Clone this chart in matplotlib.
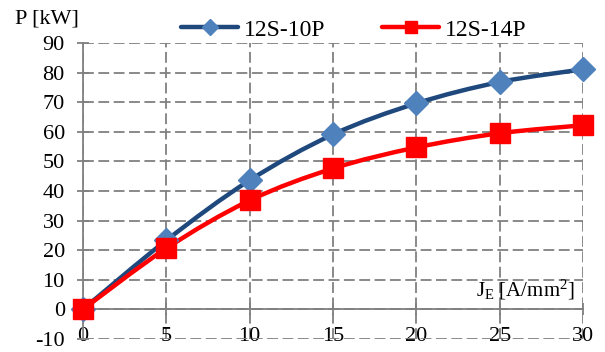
import numpy as np
import matplotlib
matplotlib.use("Agg")
import matplotlib.pyplot as plt
from matplotlib.path import Path
from matplotlib.patches import PathPatch

plt.rcParams['font.family'] = ['Liberation Serif', 'DejaVu Serif']
plt.rcParams['mathtext.fontset'] = 'custom'
plt.rcParams['mathtext.rm'] = 'Liberation Serif'
plt.rcParams['mathtext.it'] = 'Liberation Serif:italic'
plt.rcParams['axes.unicode_minus'] = False

# current density J_E [A/mm2] and output power P [kW]
j_e = [0, 5, 10, 15, 20, 25, 30]
p_10p = [0, 23.3, 43.6, 59.1, 69.6, 76.8, 81.1]
p_14p = [0, 20.6, 36.8, 47.6, 54.7, 59.5, 62.2]

x_ticks = [0, 5, 10, 15, 20, 25, 30]
y_ticks = [-10, 0, 10, 20, 30, 40, 50, 60, 70, 80, 90]


def smooth_path(xs, ys):
    # cardinal spline through the points, as cubic bezier segments
    pts = np.column_stack([xs, ys]).astype(float)
    n = len(pts)
    verts = [pts[0]]
    codes = [Path.MOVETO]
    for i in range(n - 1):
        p0 = pts[i - 1] if i > 0 else pts[i]
        p1 = pts[i]
        p2 = pts[i + 1]
        p3 = pts[i + 2] if i + 2 < n else pts[i + 1]
        c1 = p1 + (p2 - p0) / 6.0
        c2 = p2 - (p3 - p1) / 6.0
        verts += [c1, c2, p2]
        codes += [Path.CURVE4] * 3
    return Path(verts, codes)


fig = plt.figure(figsize=(6.05, 3.52), dpi=100)
ax = fig.add_axes([0.137, 0.037, 0.827, 0.841])

series = [
    (p_10p, '#1F497D', '#4F81BD', 'D', 12, 8, '12S-10P'),
    (p_14p, '#FF0000', '#FF0000', 's', 14, 9, '12S-14P'),
]
handles = []
for ys, lc, mc, mk, ms, ms_leg, name in series:
    ax.add_patch(PathPatch(smooth_path(j_e, ys), fill=False, edgecolor=lc,
                           lw=3.2, capstyle='round', zorder=3))
    ax.plot(j_e, ys, ls='none', marker=mk, ms=ms, color=mc, zorder=4, clip_on=False)
    h, = ax.plot([], [], color=lc, lw=3.2, marker=mk, ms=ms_leg,
                 markerfacecolor=mc, markeredgecolor=mc, solid_capstyle='round')
    h.set_label(name)
    handles.append(h)

ax.set_xlim(0, 30)
ax.set_ylim(-10, 90)
ax.set_xticks(x_ticks)
ax.set_yticks(y_ticks)

ax.grid(True, color='#808080', ls=(0, (6, 2.5)), lw=1.3, zorder=1)
for side in ['top', 'right']:
    ax.spines[side].set_visible(False)
ax.spines['bottom'].set_position(('data', 0))
for side in ['bottom', 'left']:
    ax.spines[side].set_color('#808080')
    ax.spines[side].set_linewidth(1.3)
    ax.spines[side].set_zorder(2)

ax.tick_params(axis='both', direction='inout', length=8, width=1.3,
               color='#808080', labelsize=16)
ax.tick_params(axis='x', pad=9)
ax.tick_params(axis='y', pad=9)

fig.text(0.025, 0.945, 'P [kW]', fontsize=16, ha='left', va='center')
ax.text(26.5, 6.5, r'J$_{\mathrm{E}}$ [A/mm$^{2}$]', fontsize=15,
        ha='center', va='center')

fig.legend(handles=handles, loc='center', bbox_to_anchor=(0.585, 0.915),
           ncol=2, frameon=False, fontsize=17, handlelength=2.4,
           handletextpad=0.25, columnspacing=2.4)

fig.savefig('out.png', dpi=100)
